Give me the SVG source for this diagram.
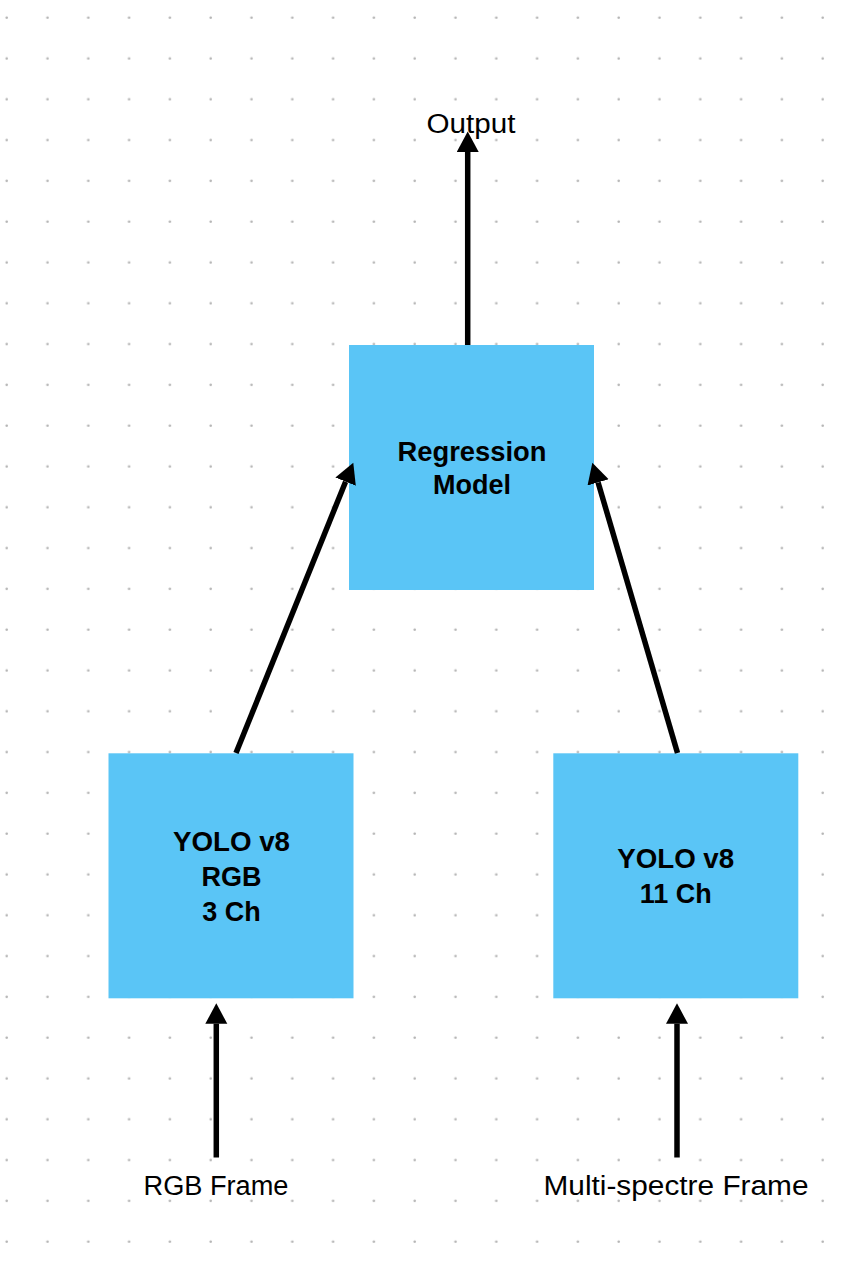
<svg xmlns="http://www.w3.org/2000/svg" width="848" height="1280" viewBox="0 0 848 1280">
  <style>
    .box { fill: #5ac5f6; }
    .title { font-family: "Liberation Sans", Arial, sans-serif; font-weight: bold; font-size: 27px; fill: #000; text-anchor: middle; }
    .label { font-family: "Liberation Sans", Arial, sans-serif; font-size: 27px; fill: #000; text-anchor: middle; }
    .conn { stroke: #000; stroke-width: 5.5; fill: none; marker-end: url(#arrow); }
  </style>
  <defs>
    <pattern id="dots" x="0" y="0" width="40.8" height="40.8" patternUnits="userSpaceOnUse">
      <circle cx="6.7" cy="17.7" r="1.3" fill="#b5b5b5"/>
    </pattern>
    <marker id="arrow" markerUnits="userSpaceOnUse" markerWidth="22" markerHeight="23" refX="0" refY="11" orient="auto" viewBox="0 0 22 23">
      <path d="M0,0 L20.5,11 L0,22 Z" fill="#000"/>
    </marker>
  </defs>
  <rect x="0" y="0" width="848" height="1280" fill="#ffffff"/>
  <rect x="0" y="0" width="848" height="1280" fill="url(#dots)"/>

  <g id="node-regression">
    <rect class="box" x="349" y="345" width="245" height="245"/>
    <text class="title" x="472" y="460.5" textLength="149" lengthAdjust="spacingAndGlyphs">Regression</text>
    <text class="title" x="472" y="494">Model</text>
  </g>

  <g id="node-yolo-rgb">
    <rect class="box" x="108.5" y="753.3" width="245" height="245"/>
    <text class="title" x="231.5" y="851" textLength="117" lengthAdjust="spacingAndGlyphs">YOLO v8</text>
    <text class="title" x="231.5" y="886">RGB</text>
    <text class="title" x="231.5" y="921">3 Ch</text>
  </g>

  <g id="node-yolo-ms">
    <rect class="box" x="553.3" y="753.3" width="245" height="245"/>
    <text class="title" x="675.7" y="868.3" textLength="117" lengthAdjust="spacingAndGlyphs">YOLO v8</text>
    <text class="title" x="675.7" y="903.3">11 Ch</text>
  </g>

  <g id="node-output">
    <text class="label" x="471" y="133" textLength="89" lengthAdjust="spacingAndGlyphs">Output</text>
  </g>

  <g id="node-rgb-frame">
    <text class="label" x="216" y="1195" textLength="145" lengthAdjust="spacingAndGlyphs">RGB Frame</text>
  </g>

  <g id="node-ms-frame">
    <text class="label" x="676" y="1195" textLength="265" lengthAdjust="spacingAndGlyphs">Multi-spectre Frame</text>
  </g>

  <g id="connectors">
    <line class="conn" x1="467.7" y1="345" x2="467.7" y2="152"/>
    <line class="conn" x1="236" y1="753" x2="345.6" y2="481.7"/>
    <line class="conn" x1="677.5" y1="753" x2="598.1" y2="482.4"/>
    <line class="conn" x1="216.3" y1="1157.5" x2="216.3" y2="1023.8"/>
    <line class="conn" x1="677" y1="1157.5" x2="677" y2="1023.8"/>
  </g>
</svg>
